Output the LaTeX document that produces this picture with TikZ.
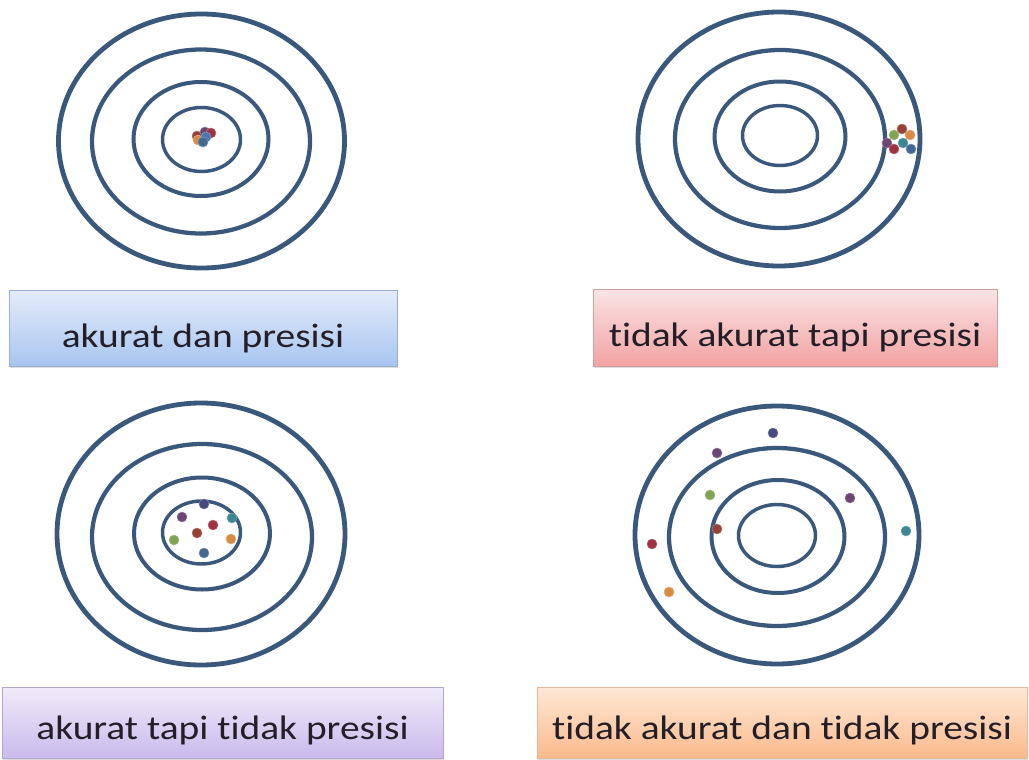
\documentclass[tikz,border=0pt]{standalone}
\usepackage{fontspec}
\setmainfont[Ligatures=NoCommon]{Carlito}
\usetikzlibrary{shadows}
\definecolor{ring}{RGB}{58,88,124}
\definecolor{txt}{RGB}{35,30,40}
\definecolor{dnavy}{RGB}{72,72,130}
\definecolor{dpurple}{RGB}{105,70,115}
\definecolor{dred}{RGB}{160,50,65}
\definecolor{dbrown}{RGB}{150,65,55}
\definecolor{dgreen}{RGB}{130,165,85}
\definecolor{dteal}{RGB}{60,135,145}
\definecolor{dorange}{RGB}{215,140,70}
\definecolor{dblue}{RGB}{65,105,145}
\definecolor{dlblue}{RGB}{75,120,175}
\definecolor{bdA}{RGB}{150,175,210}
\definecolor{tpA}{RGB}{228,236,250}
\definecolor{btA}{RGB}{168,197,240}
\definecolor{bdB}{RGB}{205,160,160}
\definecolor{tpB}{RGB}{250,228,228}
\definecolor{btB}{RGB}{242,162,162}
\definecolor{bdC}{RGB}{180,165,205}
\definecolor{tpC}{RGB}{240,235,249}
\definecolor{btC}{RGB}{202,186,236}
\definecolor{bdD}{RGB}{225,185,150}
\definecolor{tpD}{RGB}{253,232,214}
\definecolor{btD}{RGB}{250,186,140}
\newcommand{\wide}[1]{\scalebox{1.16}[1]{#1}}
\tikzset{
  r1/.style={draw=ring, line width=3.6pt},
  r2/.style={draw=ring, line width=3.2pt},
  r3/.style={draw=ring, line width=3pt},
  r4/.style={draw=ring, line width=2.6pt},
  dot/.style={circle, fill=#1, draw=#1!70!white, line width=0.4pt, minimum size=7.5pt, inner sep=0pt},
  lbl/.style={rectangle, draw=#1, line width=0.6pt, font=\fontsize{25.5}{30}\selectfont, text=txt,
     text depth=0pt, drop shadow={shadow xshift=0.8pt, shadow yshift=-1.2pt, opacity=0.25}},
}
\begin{document}
\begin{tikzpicture}[x=0.75pt,y=-0.75pt]
\useasboundingbox (0,0) rectangle (1029,760);
\fill[white] (0,0) rectangle (1029,760);

% ---------- target 1: akurat dan presisi ----------
\coordinate (c1) at (201.5,141);
\draw[r1] (c1) ellipse [x radius=143, y radius=127];
\draw[r2] (201,141.5) ellipse [x radius=109, y radius=92];
\draw[r3] (201,139) ellipse [x radius=67.5, y radius=57];
\draw[r4] (201.5,139.5) ellipse [x radius=39, y radius=32];
\node[dot=dbrown]  (a1) at (197,136) {};
\node[dot=dorange] (a2) at (198,140) {};
\node[dot=dpurple] (a3) at (205,132) {};
\node[dot=dred]    (a4) at (211,133) {};
\node[dot=dlblue]  (a5) at (206,137) {};
\node[dot=dblue]   (a6) at (203,142) {};

% ---------- target 2: tidak akurat tapi presisi ----------
\coordinate (c2) at (779,139);
\draw[r1] (c2) ellipse [x radius=141, y radius=127];
\draw[r2] (780,139) ellipse [x radius=105, y radius=89];
\draw[r3] (780,136.5) ellipse [x radius=65.5, y radius=55];
\draw[r4] (780,135.5) ellipse [x radius=37.5, y radius=30];
\node[dot=dbrown]  (b1) at (902,129) {};
\node[dot=dgreen]  (b2) at (894,135) {};
\node[dot=dorange] (b3) at (910,135) {};
\node[dot=dpurple] (b4) at (887,143) {};
\node[dot=dteal]   (b5) at (903,143) {};
\node[dot=dred]    (b6) at (894,149) {};
\node[dot=dblue]   (b7) at (911,149) {};

% ---------- target 3: akurat tapi tidak presisi ----------
\coordinate (c3) at (201,534);
\draw[r1] (c3) ellipse [x radius=144, y radius=131];
\draw[r2] (202,537) ellipse [x radius=110, y radius=93];
\draw[r3] (202,533.5) ellipse [x radius=68, y radius=56];
\draw[r4] (201.5,532.5) ellipse [x radius=39, y radius=31.5];
\node[dot=dnavy]   (p1) at (204,504) {};
\node[dot=dpurple] (p2) at (182,517) {};
\node[dot=dteal]   (p3) at (232,518) {};
\node[dot=dred]    (p4) at (213,525) {};
\node[dot=dbrown]  (p5) at (197,533) {};
\node[dot=dgreen]  (p6) at (174,540) {};
\node[dot=dorange] (p7) at (231,539) {};
\node[dot=dblue]   (p8) at (204,553) {};

% ---------- target 4: tidak akurat dan tidak presisi ----------
\coordinate (c4) at (777,535);
\draw[r1] (c4) ellipse [x radius=142, y radius=129];
\draw[r2] (777,537) ellipse [x radius=108, y radius=89];
\draw[r3] (778,536.5) ellipse [x radius=66.5, y radius=56.5];
\draw[r4] (777,535.5) ellipse [x radius=38.5, y radius=31];
\node[dot=dnavy]   (q1) at (773,433) {};
\node[dot=dpurple] (q2) at (717,453) {};
\node[dot=dgreen]  (q3) at (710,495) {};
\node[dot=dpurple] (q4) at (850,498) {};
\node[dot=dbrown]  (q5) at (717,529) {};
\node[dot=dteal]   (q6) at (906,531) {};
\node[dot=dred]    (q7) at (652,544) {};
\node[dot=dorange] (q8) at (669,592) {};

% ---------- labels ----------
\node[lbl=bdA, top color=tpA, bottom color=btA, text height=28.5pt,
  minimum width=291pt, minimum height=57pt] (L1) at (203,328) {\wide{akurat dan presisi}};
\node[lbl=bdB, top color=tpB, bottom color=btB, text height=28.5pt,
  minimum width=303pt, minimum height=57.75pt] (L2) at (795,327.5) {\wide{tidak akurat tapi presisi}};
\node[lbl=bdC, top color=tpC, bottom color=btC, text height=25pt,
  minimum width=330.75pt, minimum height=53.25pt] (L3) at (222.5,722.5) {\wide{akurat tapi tidak presisi}};
\node[lbl=bdD, top color=tpD, bottom color=btD, text height=25pt,
  minimum width=367.5pt, minimum height=53.25pt] (L4) at (782,722.5) {\wide{tidak akurat dan tidak presisi}};
\end{tikzpicture}
\end{document}
